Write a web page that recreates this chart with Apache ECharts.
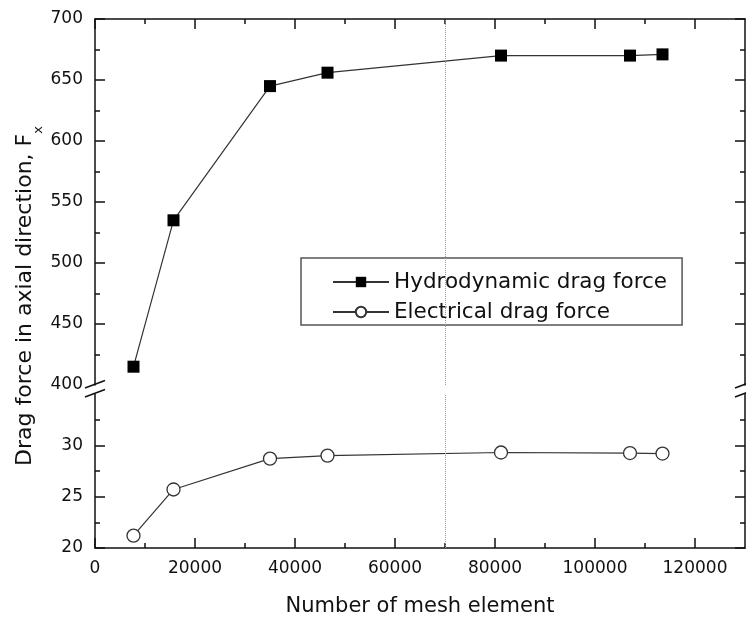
<!DOCTYPE html>
<html>
<head>
<meta charset="utf-8">
<script src="https://cdn.jsdelivr.net/npm/echarts@6/dist/echarts.min.js"></script>
<style>
html,body{margin:0;padding:0;background:#fff;}
#chart{width:746px;height:620px;}
</style>
</head>
<body>
<div id="chart"></div>
<script>
// ---- data ----
var meshElements = [7700, 15700, 35000, 46500, 81200, 107000, 113500];
var hydroForce   = [415, 535, 645, 656, 670, 670, 671];
var elecForce    = [21.2, 25.7, 28.7, 29.0, 29.3, 29.25, 29.2];
var seriesNames  = ['Hydrodynamic drag force', 'Electrical drag force'];
var xMajorTicks  = [0, 20000, 40000, 60000, 80000, 100000, 120000];
var xMinorTicks  = [10000, 30000, 50000, 70000, 90000, 110000];
var yTopTicks    = [450, 500, 550, 600, 650, 700];
var yTopLabels   = [400, 450, 500, 550, 600, 650, 700];
var yBottomTicks = [20, 25, 30];
var markX        = 70000;
var xTitle = 'Number of mesh element';
var yTitle = 'Drag force in axial direction, F';
var ySub = 'x';

var FONT = 'DejaVu Sans';
var INK = '#111';

function pairs(xs, ys) { return xs.map(function (x, i) { return [x, ys[i]]; }); }
function plain(v) { return String(v); }

function majorX(grid, pos, labels) {
  return {
    type: 'value', gridIndex: grid, position: pos, min: 0, max: 130000, interval: 20000,
    axisLine: { show: true, lineStyle: { color: INK, width: 1.5 } },
    axisTick: { show: true, inside: true, length: 10, customValues: xMajorTicks, lineStyle: { color: INK, width: 1.5 } },
    axisLabel: labels ? { show: true, margin: 12, fontFamily: FONT, fontSize: 17, color: INK, customValues: xMajorTicks, formatter: plain } : { show: false },
    splitLine: { show: false }
  };
}
function minorX(grid, pos) {
  return {
    type: 'value', gridIndex: grid, position: pos, min: 0, max: 130000, interval: 10000,
    axisLine: { show: false },
    axisTick: { show: true, inside: true, length: 5, customValues: xMinorTicks, lineStyle: { color: INK, width: 1.5 } },
    axisLabel: { show: false },
    splitLine: { show: false }
  };
}
function yAx(grid, pos, min, max, interval, ticks, labels) {
  return {
    type: 'value', gridIndex: grid, position: pos, min: min, max: max, interval: interval,
    axisLine: { show: true, onZero: false, lineStyle: { color: INK, width: 1.5 } },
    axisTick: { show: true, inside: true, length: 10, customValues: ticks, lineStyle: { color: INK, width: 1.5 } },
    minorTick: { show: true, splitNumber: 2, length: 5, lineStyle: { color: INK, width: 1.5 } },
    axisLabel: labels ? { show: true, margin: 12, fontFamily: FONT, fontSize: 17, color: INK, customValues: labels, formatter: plain } : { show: false },
    splitLine: { show: false }, minorSplitLine: { show: false }
  };
}

var xAxes = [
  majorX(0, 'top', false),
  minorX(0, 'top'),
  majorX(1, 'bottom', true),
  minorX(1, 'bottom')
];
xAxes[2].name = xTitle;
xAxes[2].nameLocation = 'middle';
xAxes[2].nameGap = 48;
xAxes[2].nameTextStyle = { fontFamily: FONT, fontSize: 21, color: INK };

var markLineCfg = {
  silent: true, symbol: ['none', 'none'], label: { show: false },
  lineStyle: { type: 'dotted', color: '#999', width: 1 },
  data: [{ xAxis: markX }]
};

var option = {
  animation: false,
  backgroundColor: '#fff',
  grid: [
    { left: 95, top: 19, width: 650, height: 366 },
    { left: 95, top: 394, width: 650, height: 154 }
  ],
  xAxis: xAxes,
  yAxis: [
    yAx(0, 'left', 400, 700, 50, yTopTicks, yTopLabels),
    yAx(0, 'right', 400, 700, 50, yTopTicks, null),
    yAx(1, 'left', 20, 35, 5, yBottomTicks, yBottomTicks),
    yAx(1, 'right', 20, 35, 5, yBottomTicks, null)
  ],
  legend: {
    orient: 'vertical', left: 301, top: 258,
    data: seriesNames,
    backgroundColor: '#fff',
    borderColor: '#555', borderWidth: 1.5, borderRadius: 0,
    padding: [12, 15, 1, 31],
    itemWidth: 56, itemHeight: 13, itemGap: 6,
    textStyle: { fontFamily: FONT, fontSize: 21.5, color: INK, lineHeight: 24 }
  },
  series: [
    {
      name: seriesNames[0], type: 'line', xAxisIndex: 0, yAxisIndex: 0,
      data: pairs(meshElements, hydroForce),
      symbol: 'rect', symbolSize: 12,
      itemStyle: { color: '#000' },
      lineStyle: { color: '#333', width: 1.2 },
      markLine: markLineCfg
    },
    {
      name: seriesNames[1], type: 'line', xAxisIndex: 2, yAxisIndex: 2,
      data: pairs(meshElements, elecForce),
      symbol: 'circle', symbolSize: 13,
      itemStyle: { color: '#fff', borderColor: '#333', borderWidth: 1.3 },
      lineStyle: { color: '#333', width: 1.2 },
      markLine: markLineCfg
    }
  ],
  graphic: [
    {
      type: 'text', x: 25, y: 296, rotation: Math.PI / 2,
      style: {
        text: '{a|' + yTitle + '}{s|' + ySub + '}',
        align: 'center', verticalAlign: 'middle',
        rich: {
          a: { fontFamily: FONT, fontSize: 22, lineHeight: 40, fill: INK },
          s: { fontFamily: FONT, fontSize: 13, lineHeight: 13, verticalAlign: 'bottom', fill: INK }
        }
      }
    },
    { type: 'line', shape: { x1: 85, y1: 388, x2: 105, y2: 380.5 }, style: { stroke: INK, lineWidth: 1.5 } },
    { type: 'line', shape: { x1: 85, y1: 397, x2: 105, y2: 389.5 }, style: { stroke: INK, lineWidth: 1.5 } },
    { type: 'line', shape: { x1: 735, y1: 388, x2: 755, y2: 380.5 }, style: { stroke: INK, lineWidth: 1.5 } },
    { type: 'line', shape: { x1: 735, y1: 397, x2: 755, y2: 389.5 }, style: { stroke: INK, lineWidth: 1.5 } }
  ]
};

var chart = echarts.init(document.getElementById('chart'), null, { renderer: 'canvas' });
chart.setOption(option);
</script>
</body>
</html>
